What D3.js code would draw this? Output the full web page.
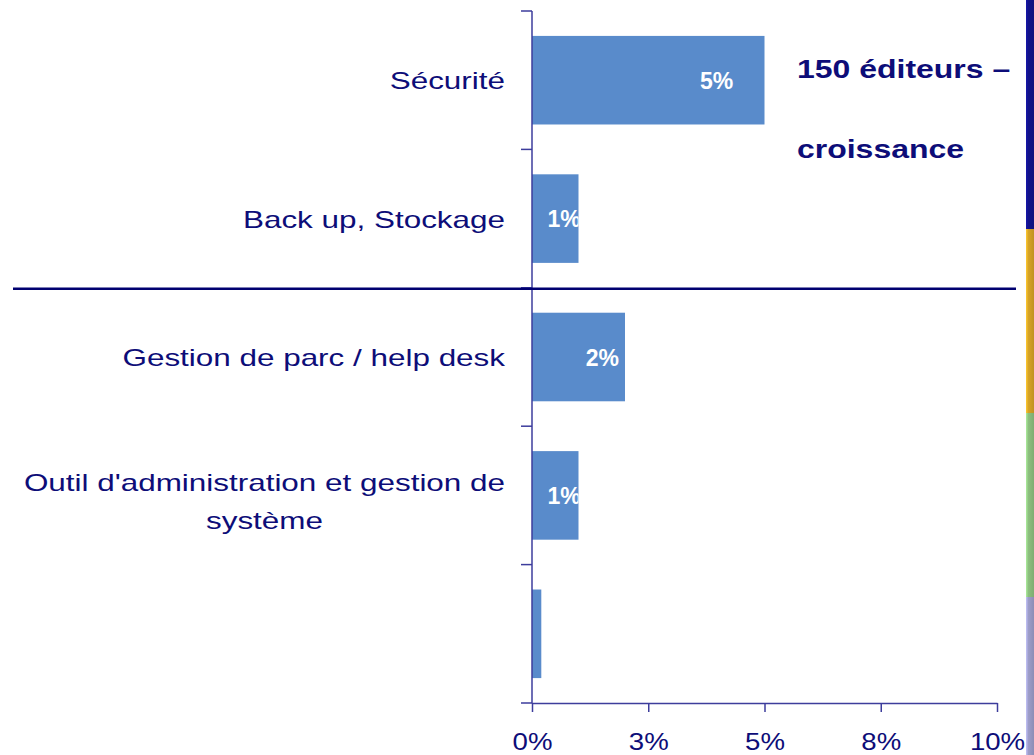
<!DOCTYPE html>
<meta charset="utf-8">
<style>
	body { margin: 0; background: #fff; }
	svg { display: block; font-family: "Liberation Sans", Arial, sans-serif; }
</style>
<body>
	<div id="chart"></div>
</body>
<script src="https://cdn.jsdelivr.net/npm/d3@7"></script>
<script>
	const categories = ["Sécurité", "Back up, Stockage", "Gestion de parc / help desk",
		"Outil d'administration et gestion de|système", ""];
	const values = [5.0, 1.0, 2.0, 1.0, 0.2];
	const barLabels = ["5%", "1%", "2%", "1%", ""];
	const xTicks = [0, 2.5, 5, 7.5, 10];
	const xTickLabels = ["0%", "3%", "5%", "8%", "10%"];
	const titleLines = ["150 éditeurs –", "croissance"];
	// decorative strip at the right edge: [end y, colour]
	const stripStops = [[229, "#12128a"], [413, "#d6a326"], [597, "#8cbf7e"], [755, "#9d9dc9"]];

	const width = 1034, height = 755,
	    margin = {top: 11, left: 532, right: 37, bottom: 52},
	    navy = "#0d0d78",
	    axisColor = "#3d3d9c",
	    barColor = "#598bcb";

	const svg = d3.select("#chart").append("svg")
	    .attr("width", width)
	    .attr("height", height);

	const x = d3.scaleLinear().domain([0, 10])
	    .range([margin.left, width - margin.right]);

	const y = d3.scaleBand().domain(d3.range(categories.length))
	    .range([margin.top, height - margin.bottom])
	    .paddingInner(0.36)
	    .paddingOuter(0.18);

	// the original text is drawn a bit wider than normal
	function wide(sel, px, py, sx) {
	    return sel.attr("x", 0).attr("y", 0)
	        .attr("transform", "translate(" + px + "," + py + ") scale(" + sx + ",1)");
	}

	// right edge strip
	const defs = svg.append("defs");
	let prev = 0;
	stripStops.forEach(function(s, i) {
	    const g = defs.append("linearGradient").attr("id", "strip" + i)
	        .attr("x1", 0).attr("x2", 1).attr("y1", 0).attr("y2", 0);
	    g.append("stop").attr("offset", 0).attr("stop-color", d3.color(s[1]).brighter(0.6));
	    g.append("stop").attr("offset", 0.3).attr("stop-color", s[1]);
	    g.append("stop").attr("offset", 1).attr("stop-color", d3.color(s[1]).darker(0.3));
	    svg.append("rect")
	        .attr("x", 1026).attr("y", prev)
	        .attr("width", 8).attr("height", s[0] - prev)
	        .attr("fill", "url(#strip" + i + ")");
	    prev = s[0];
	});

	// bars
	svg.append("g").selectAll("rect")
	    .data(values)
	    .enter().append("rect")
	        .attr("x", x(0))
	        .attr("y", (d, i) => y(i))
	        .attr("width", d => x(d) - x(0))
	        .attr("height", y.bandwidth())
	        .attr("fill", barColor);

	// value labels inside bars (clipped to the bar like the original)
	values.forEach(function(v, i) {
	    defs.append("clipPath").attr("id", "clip" + i)
	        .append("rect")
	        .attr("x", x(0)).attr("y", y(i))
	        .attr("width", x(v) - x(0)).attr("height", y.bandwidth());
	});
	svg.append("g").selectAll("text")
	    .data(values)
	    .enter().append("text")
	        .attr("clip-path", (d, i) => "url(#clip" + i + ")")
	        .attr("x", d => x(0) + (x(d) - x(0)) * 0.82 - 6)
	        .attr("y", (d, i) => y(i) + y.bandwidth() / 2)
	        .attr("dy", "0.38em")
	        .attr("text-anchor", "middle")
	        .style("fill", "#fff")
	        .style("font-weight", "bold")
	        .style("font-size", "23px")
	        .text((d, i) => barLabels[i]);

	// y axis: line plus ticks at category boundaries
	const yAxis = svg.append("g");
	yAxis.append("line")
	    .attr("x1", x(0)).attr("x2", x(0))
	    .attr("y1", y.range()[0]).attr("y2", y.range()[1])
	    .attr("stroke", axisColor).attr("stroke-width", 1.5);
	yAxis.selectAll(".tk")
	    .data(d3.range(categories.length + 1))
	    .enter().append("line")
	        .attr("x1", x(0) - 11).attr("x2", x(0))
	        .attr("y1", d => y.range()[0] + d * y.step())
	        .attr("y2", d => y.range()[0] + d * y.step())
	        .attr("stroke", axisColor).attr("stroke-width", 1.5);

	// category labels
	const labelStretch = 1.31;
	const labels = svg.append("g")
	    .style("font-size", "24px")
	    .style("fill", navy);
	categories.forEach(function(c, i) {
	    const lines = c.split("|");
	    const cy = y(i) + y.bandwidth() / 2;
	    const lh = 38;
	    const y0 = cy + 9 - (lines.length - 1) * 13;
	    const t = wide(labels.append("text").attr("text-anchor", "end"),
	        x(0) - 27, y0, labelStretch)
	        .text(lines[0]);
	    if (lines.length > 1) {
	        const w = t.node().getComputedTextLength() * labelStretch;
	        for (let k = 1; k < lines.length; k++) {
	            wide(labels.append("text").attr("text-anchor", "middle"),
	                x(0) - 27 - w / 2, y0 + k * lh, labelStretch)
	                .text(lines[k]);
	        }
	    }
	});

	// x axis
	const xAxis = svg.append("g")
	    .attr("transform", "translate(0," + y.range()[1] + ")")
	    .call(d3.axisBottom(x).tickValues(xTicks)
	        .tickFormat((d, i) => xTickLabels[i])
	        .tickSize(9).tickSizeOuter(0).tickPadding(21));
	xAxis.select(".domain").attr("stroke", axisColor).attr("stroke-width", 1.5);
	xAxis.selectAll(".tick line").attr("stroke", axisColor).attr("stroke-width", 1.5);
	xAxis.selectAll(".tick text")
	    .attr("transform", "scale(1.15,1)")
	    .style("font-family", "'Liberation Sans', Arial, sans-serif")
	    .style("font-size", "24px")
	    .style("fill", navy);

	// separator line between the groups
	const sepY = y.range()[0] + 2 * y.step() + 1;
	svg.append("line")
	    .attr("x1", 13).attr("x2", 1016)
	    .attr("y1", sepY).attr("y2", sepY)
	    .attr("stroke", "#000070").attr("stroke-width", 2.5);

	// annotation
	const notes = svg.append("g")
	    .style("font-weight", "bold")
	    .style("font-size", "26px")
	    .style("fill", navy);
	titleLines.forEach(function(d, i) {
	    wide(notes.append("text"), 797, 78 + i * 80, 1.23).text(d);
	});
</script>
